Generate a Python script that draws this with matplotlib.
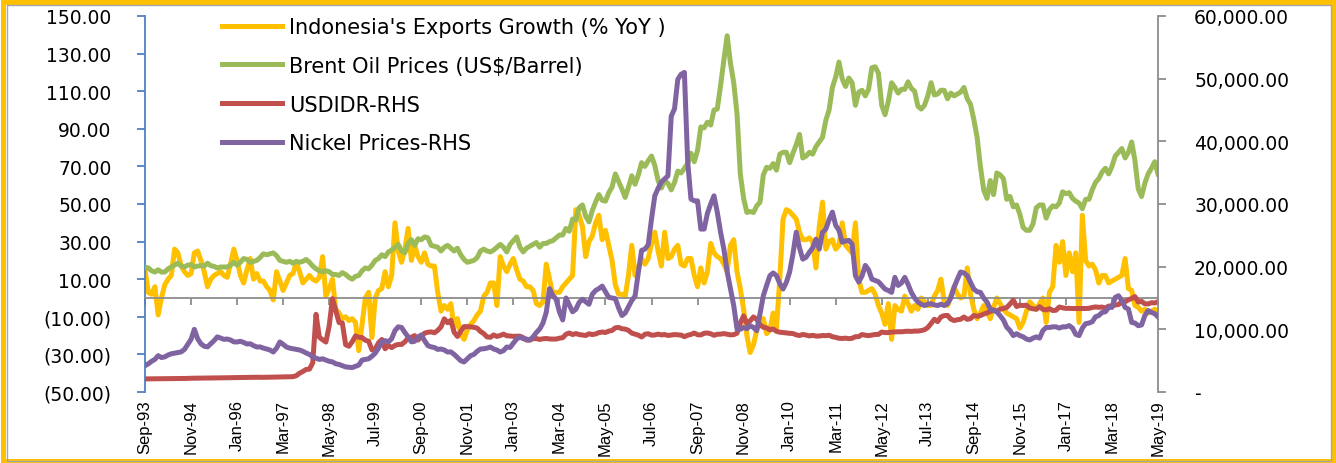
import matplotlib
matplotlib.use("Agg")
import matplotlib.pyplot as plt
from matplotlib.patches import Rectangle
from matplotlib.ticker import FixedLocator, FuncFormatter
import numpy as np
import pandas as pd

# ---------------- data (monthly, Sep-93 .. May-19) ----------------
months = pd.date_range("1993-09-01", "2019-05-01", freq="MS")

exports_growth = [
    15, 3, 2, 6,
    -9, 0, 7, 10, 12, 26, 24, 17, 14, 12, 13, 24,
    25, 20, 14, 6, 10, 12, 13, 14, 12, 11, 18, 26,
    20, 12, 8, 15, 21, 10, 13, 9, 9, 6, 4, -1,
    14, 9, 4, 8, 12, 13, 19, 14, 8, 10, 12, 10,
    9, 11, 22, 1, 5, 10, -6, -8, -11, -10, -12, -11,
    -13, -28, -14, 0, 3, -21, 0, 4, 5, 14, 6, 12,
    40, 25, 19, 26, 37, 20, 28, 22, 19, 24, 18, 17,
    17, 3, -7, -4, -6, -3, -16, -11, -19, -22, -17, -14,
    -12, -9, -7, 1, 3, 8, 8, -4, 22, 17, 14, 18,
    21, 15, 10, 9, 6, 6, 4, -3, -4, -2, 18, 10,
    2, 3, 3, 6, 8, 10, 12, 47, 44, 38, 22, 30,
    33, 40, 44, 31, 36, 28, 20, 7, 2, 2, 1, 12,
    28, 12, 16, 21, 18, 21, 29, 35, 25, 17, 35, 21,
    22, 26, 28, 18, 17, 21, 21, 12, 6, 16, 8, 14,
    29, 24, 22, 21, 18, 14, 28, 31, 14, 5, -6, -20,
    -29, -25, -17, -12, -11, -19, -17, -8, -16, 10, 42, 47,
    46, 44, 42, 35, 31, 31, 32, 30, 16, 38, 51, 26,
    30, 31, 26, 28, 40, 28, 26, 24, 40, 10, 3, 3,
    4, 5, 2, -4, -8, -14, -3, -22, -4, -6, -7, 1,
    -3, -7, -4, -6, 0, -2, -4, -4, 1, 4, 10, -2,
    -4, 1, 6, 2, 0, 1, 16, 2, -6, -11, -8, -4,
    -7, -11, -5, 0, -3, -6, -8, -9, -10, -11, -16, -13,
    -7, -2, -4, -6, -3, 0, -13, 3, 6, 28, 19, 30,
    12, 24, 14, 24, -13, 44, 20, 17, 18, 15, 8, 12,
    12, 8, 9, 10, 11, 12, 21, 5, 4, -4, -5, -7,
    -6, -8, -7, -6, -7,
]

brent_oil = [
    16.5, 16.0, 14.5, 13.8,
    15.0, 13.8, 13.8, 15.5, 16.5, 17.5, 18.5, 17.0, 16.5, 17.5, 17.8, 16.5,
    17.0, 17.2, 17.0, 18.5, 17.2, 16.8, 16.0, 16.5, 16.5, 16.5, 17.5, 19.0,
    17.5, 19.0, 21.0, 20.5, 19.0, 19.5, 20.0, 21.5, 23.5, 23.0, 23.5, 24.0,
    22.5, 20.0, 19.5, 19.0, 19.5, 18.5, 19.5, 19.0, 19.5, 20.5, 19.0, 17.0,
    15.5, 14.5, 14.0, 14.5, 14.0, 12.5, 12.5, 12.0, 13.5, 12.5, 11.0, 10.0,
    11.5, 12.0, 14.5, 16.0, 15.5, 17.5, 20.0, 21.0, 23.0, 22.0, 24.5, 25.5,
    27.0, 28.5, 25.0, 24.0, 29.0, 31.0, 28.0, 31.5, 31.0, 32.5, 32.0, 28.0,
    27.5, 27.0, 25.0, 27.0, 28.0, 26.5, 25.0, 26.5, 23.0, 20.5, 19.0, 19.5,
    20.0, 21.5, 25.0, 26.0, 25.0, 24.5, 25.5, 27.0, 28.5, 27.0, 24.5, 28.5,
    30.5, 32.5, 27.0, 24.5, 26.5, 27.5, 28.5, 29.5, 27.0, 29.0, 29.0, 30.0,
    30.5, 32.0, 33.5, 33.5, 37.0, 35.5, 42.0, 41.5, 48.0, 49.5, 43.5, 40.5,
    46.5, 51.0, 55.0, 52.0, 51.5, 56.0, 59.0, 66.0, 62.0, 58.0, 53.5, 59.0,
    65.0, 60.5, 65.5, 72.0, 70.0, 73.0, 75.5, 70.5, 62.5, 58.5, 62.5, 61.0,
    57.5, 61.5, 67.5, 66.5, 69.0, 71.5, 77.0, 72.5, 78.5, 91.0, 90.5, 93.5,
    92.0, 100.0, 100.5, 113.0, 126.5, 139.5, 125.0, 114.5, 98.0, 66.0, 53.0, 45.5,
    46.0, 45.5, 49.0, 51.0, 65.5, 69.5, 69.0, 71.5, 68.0, 76.5, 77.5, 77.5,
    72.0, 77.0, 81.5, 87.0, 74.5, 75.5, 77.5, 76.5, 80.5, 83.0, 85.5, 94.5,
    100.0, 112.0, 117.5, 125.5, 116.5, 112.5, 117.0, 114.5, 102.5, 109.5, 110.5, 107.5,
    111.0, 122.5, 123.0, 119.5, 102.5, 97.5, 104.5, 114.5, 112.0, 109.0, 111.0, 111.0,
    115.0, 111.5, 110.0, 102.0, 100.5, 102.5, 107.5, 114.5, 108.0, 108.5, 110.5, 110.5,
    106.0, 109.0, 107.5, 108.5, 109.5, 112.0, 106.0, 103.0, 95.0, 85.5, 70.0, 57.5,
    53.0, 62.5, 55.0, 66.5, 65.5, 63.5, 52.5, 54.0, 48.5, 49.5, 44.5, 37.5,
    36.0, 36.0, 39.5, 48.0, 49.5, 49.5, 42.5, 47.0, 49.0, 48.5, 50.5, 56.5,
    55.5, 56.0, 53.0, 51.5, 50.5, 47.5, 52.5, 52.5, 57.5, 61.5, 63.5, 67.0,
    69.0, 66.0, 70.0, 75.5, 77.5, 79.5, 74.5, 77.5, 83.0, 73.0, 58.0, 54.0,
    61.0, 66.0, 69.0, 72.5, 66.0,
]

usd_idr = [
    2090, 2095, 2100, 2105,
    2110, 2115, 2120, 2125, 2130, 2140, 2150, 2160, 2165, 2170, 2195, 2200,
    2205, 2215, 2225, 2230, 2240, 2245, 2250, 2260, 2270, 2280, 2290, 2305,
    2320, 2330, 2335, 2340, 2345, 2350, 2355, 2345, 2340, 2350, 2355, 2365,
    2390, 2400, 2410, 2420, 2430, 2445, 2600, 3000, 3275, 3600, 3650, 4650,
    12400, 8750, 8325, 7970, 10525, 14900, 13000, 11075, 11000, 7550, 7300, 8025,
    8950, 8730, 8685, 8260, 8105, 6726, 6880, 7850, 8385, 6900, 7425, 7085,
    7425, 7590, 7590, 8000, 8620, 8735, 9000, 8290, 8780, 9395, 9530, 9595,
    9450, 9835, 10400, 11675, 11058, 11440, 9525, 8865, 9675, 10435, 10430, 10400,
    10320, 10190, 9655, 9316, 8785, 8730, 9108, 8867, 9015, 9233, 8976, 8940,
    8876, 8905, 8908, 8675, 8279, 8285, 8505, 8535, 8389, 8495, 8537, 8465,
    8441, 8447, 8587, 8661, 9210, 9415, 9168, 9328, 9170, 9090, 9018, 9290,
    9165, 9260, 9480, 9570, 9495, 9713, 9819, 10240, 10310, 10090, 10035, 9830,
    9395, 9230, 9075, 8775, 9220, 9300, 9070, 9100, 9235, 9110, 9165, 9020,
    9090, 9160, 9118, 9083, 8828, 9054, 9186, 9410, 9137, 9103, 9376, 9419,
    9291, 9051, 9217, 9234, 9318, 9225, 9118, 9153, 9378, 10995, 12151, 10950,
    11355, 11980, 11575, 10713, 10340, 10225, 9920, 10060, 9681, 9545, 9480, 9400,
    9365, 9335, 9115, 9012, 9180, 9083, 8952, 9041, 8924, 8928, 9013, 8991,
    9057, 8823, 8709, 8574, 8537, 8597, 8508, 8578, 8823, 8835, 9170, 9068,
    8990, 9085, 9180, 9190, 9565, 9480, 9485, 9560, 9588, 9615, 9605, 9670,
    9698, 9667, 9719, 9722, 9802, 9929, 10278, 10924, 11613, 11234, 11977, 12189,
    12226, 11634, 11404, 11532, 11611, 11969, 11591, 11717, 12212, 12082, 12196, 12440,
    12625, 12863, 13084, 12937, 13211, 13332, 13481, 14027, 14657, 13639, 13840, 13795,
    13846, 13395, 13276, 13204, 13615, 13180, 13094, 13300, 12998, 13051, 13563, 13436,
    13343, 13347, 13321, 13327, 13321, 13319, 13323, 13351, 13492, 13572, 13514, 13548,
    13413, 13707, 13756, 13877, 13951, 14404, 14413, 14711, 14929, 15227, 14339, 14481,
    14072, 14062, 14244, 14215, 14385,
]

nickel_prices = [
    4200, 4500, 4900, 5200,
    5800, 5500, 5600, 5900, 6100, 6200, 6300, 6400, 6800, 7600, 8400, 10000,
    8500, 7700, 7300, 7200, 7700, 8200, 8800, 8600, 8400, 8450, 8300, 8000,
    7980, 8100, 7900, 7660, 7700, 7400, 7180, 7200, 7000, 6860, 6700, 6380,
    7000, 7980, 7600, 7180, 7000, 6900, 6800, 6700, 6500, 6220, 6000, 5600,
    5400, 5200, 5300, 5100, 4900, 4800, 4500, 4400, 4200, 4000, 3950, 3900,
    4100, 4300, 5100, 5200, 5300, 5700, 6200, 7000, 7980, 8200, 8000, 8500,
    9800, 10400, 10300, 9500, 8800, 8000, 8100, 8780, 9100, 8200, 7400, 7200,
    7100, 6800, 6860, 6700, 6380, 6400, 6000, 5500, 5000, 4790, 5300, 5800,
    6000, 6500, 6860, 6900, 7000, 7180, 6860, 6700, 6380, 6600, 7180, 7100,
    7800, 8450, 8780, 8500, 8450, 8300, 8800, 9500, 10050, 11000, 12700, 16500,
    15400, 14800, 12800, 11500, 15000, 13900, 12800, 13200, 14300, 14800, 14400, 14000,
    15600, 16200, 16500, 16900, 16000, 15100, 15000, 14900, 13400, 12200, 12600, 13600,
    14600, 15300, 19100, 22600, 22800, 23500, 27600, 31300, 32500, 33500, 34000, 34500,
    44000, 45200, 49900, 50700, 51000, 36700, 30800, 30500, 30500, 26000, 26000, 28500,
    30000, 31300, 28700, 25500, 22800, 19200, 16500, 13800, 10050, 10000, 10300, 10100,
    10580, 10300, 9780, 12500, 15360, 17000, 18560, 19000, 18560, 17300, 16430, 17500,
    19150, 22000, 25500, 23000, 21200, 21500, 22300, 23000, 24400, 22800, 25500, 26000,
    27500, 28700, 26600, 25800, 23900, 24100, 24200, 23600, 18560, 17550, 18500, 20200,
    19500, 18000, 17800, 17600, 17000, 16430, 16200, 15900, 18300, 17000, 17400, 18300,
    17200, 15900, 15000, 14360, 14000, 13800, 14000, 14100, 13900, 13800, 14000, 13800,
    14100, 15000, 16700, 18000, 19150, 19000, 18560, 17500, 16430, 16000, 15900, 15000,
    14360, 13240, 13000, 12800, 12180, 11500, 10350, 9800, 9000, 9300, 9000, 8800,
    8450, 8300, 8600, 8800, 8600, 9800, 10300, 10300, 10400, 10400, 10200, 10400,
    10400, 10600, 10200, 9200, 9000, 10200, 10900, 11000, 11200, 12000, 12200, 12700,
    12800, 13500, 13500, 15100, 15360, 14600, 13500, 13240, 11100, 11000, 10580, 10700,
    12200, 13000, 12700, 12500, 12000,
]

tick_labels = ["Sep-93", "Nov-94", "Jan-96", "Mar-97", "May-98", "Jul-99", "Sep-00",
               "Nov-01", "Jan-03", "Mar-04", "May-05", "Jul-06", "Sep-07", "Nov-08",
               "Jan-10", "Mar-11", "May-12", "Jul-13", "Sep-14", "Nov-15", "Jan-17",
               "Mar-18", "May-19"]

series_names = ["Indonesia's Exports Growth (% YoY )", "Brent Oil Prices (US$/Barrel)",
                "USDIDR-RHS", "Nickel Prices-RHS"]

# ---------------- plotting ----------------
C_YEL, C_GRN, C_RED, C_PUR = "#FFC000", "#9BBB59", "#C0504D", "#8064A2"
W, H = 1336, 464
fig = plt.figure(figsize=(W / 100, H / 100), dpi=100)
L, R, T, B = 145, 1158, 17, 393
ax = fig.add_axes([L / W, 1 - B / H, (R - L) / W, (B - T) / H])
ax2 = ax.twinx()

x = np.arange(len(months))
lw = 3.6
l1, = ax.plot(x, exports_growth, color=C_YEL, lw=lw, solid_joinstyle="round", zorder=2)
l2, = ax.plot(x, brent_oil, color=C_GRN, lw=lw, solid_joinstyle="round", zorder=3)
l3, = ax2.plot(x, usd_idr, color=C_RED, lw=lw, solid_joinstyle="round", zorder=2)
l4, = ax2.plot(x, nickel_prices, color=C_PUR, lw=lw, solid_joinstyle="round", zorder=3)

ax.set_xlim(0, len(months) - 1)
ax.set_ylim(-50, 150)
ax2.set_ylim(0, 60000)

# spines
for s in ["top", "right"]:
    ax.spines[s].set_visible(False)
for s in ["top", "left", "bottom"]:
    ax2.spines[s].set_visible(False)
ax.spines["left"].set_color("#4F81BD")
ax.spines["left"].set_linewidth(1.3)
ax.spines["bottom"].set_position(("data", 0))
ax.spines["bottom"].set_color("#8C8C8C")
ax.spines["bottom"].set_linewidth(1.3)
ax2.spines["right"].set_color("#8C8C8C")
ax2.spines["right"].set_linewidth(1.3)

# left axis ticks
def left_fmt(v, pos):
    return f"({abs(v):.2f})" if v < 0 else f"{v:.2f}"
ax.yaxis.set_major_locator(FixedLocator(np.arange(-50, 151, 20)))
ax.yaxis.set_major_formatter(FuncFormatter(left_fmt))
ax.tick_params(axis="y", direction="out", length=6, width=1.3, color="#4F81BD",
               pad=18, labelsize=13.5)

# right axis ticks
def right_fmt(v, pos):
    return "-" if v == 0 else f"{v:,.2f}"
ax2.yaxis.set_major_locator(FixedLocator(np.arange(0, 60001, 10000)))
ax2.yaxis.set_major_formatter(FuncFormatter(right_fmt))
ax2.tick_params(axis="y", direction="out", length=6, width=1.3, color="#8C8C8C",
                pad=20, labelsize=13.5)

# x ticks
ax.set_xticks(np.arange(0, len(months), 14))
ax.set_xticklabels(tick_labels, rotation=90, ha="center", va="top",
                   family=["Liberation Sans"], fontsize=12)
ax.tick_params(axis="x", direction="out", length=5, width=1.3, color="#8C8C8C", pad=68)
for lab in ax.get_yticklabels() + ax2.get_yticklabels():
    lab.set_family("DejaVu Sans")

# legend
leg = ax2.legend([l1, l2, l3, l4], series_names, loc="upper left",
                 bbox_to_anchor=(222 / W, 1 - 18 / H), bbox_transform=fig.transFigure,
                 frameon=False, fontsize=15, handlelength=2.9, handletextpad=0.33,
                 labelspacing=0.9, borderpad=0, borderaxespad=0)

# outer frame
fig.add_artist(Rectangle((2.5 / W, 2.5 / H), (W - 5) / W, (H - 5) / H,
                         transform=fig.transFigure, fill=False, edgecolor="#FFC000", lw=3.6))
fig.add_artist(Rectangle((6.5 / W, 2.5 / H), (W - 11.5) / W, (H - 8.5) / H,
                         transform=fig.transFigure, fill=False, edgecolor="#A6A6A6", lw=1.0))

fig.savefig("out.png", dpi=100)
